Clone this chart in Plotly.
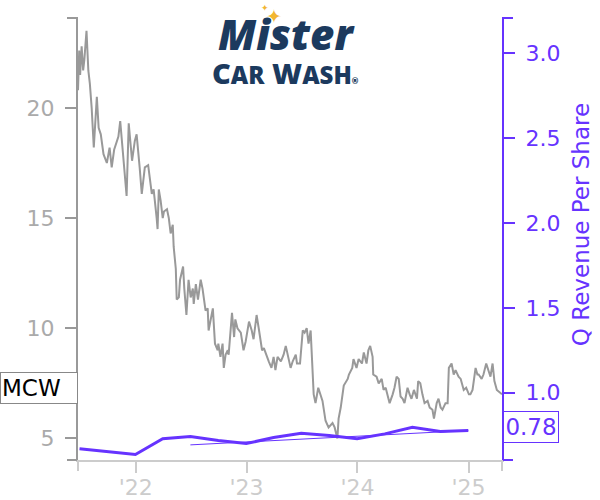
import plotly.graph_objects as go

# ---------------- data ----------------
price_dates = [
    "2021-06-25", "2021-06-29", "2021-07-02", "2021-07-07", "2021-07-12", "2021-07-16", "2021-07-23",
    "2021-07-29", "2021-08-03", "2021-08-09", "2021-08-16", "2021-08-26", "2021-09-01", "2021-09-08",
    "2021-09-17", "2021-09-28", "2021-10-07", "2021-10-14", "2021-10-22", "2021-11-05", "2021-11-11",
    "2021-11-23", "2021-12-02", "2021-12-09", "2021-12-20", "2021-12-29", "2022-01-04", "2022-01-14",
    "2022-01-21", "2022-01-31", "2022-02-11", "2022-02-23", "2022-03-01", "2022-03-11", "2022-03-14",
    "2022-03-18", "2022-03-24", "2022-03-31", "2022-04-04", "2022-04-14", "2022-04-20", "2022-04-26",
    "2022-05-03", "2022-05-06", "2022-05-13", "2022-05-16", "2022-05-23", "2022-05-27", "2022-06-06",
    "2022-06-10", "2022-06-17", "2022-06-24", "2022-07-01", "2022-07-08", "2022-07-11", "2022-07-18",
    "2022-07-25", "2022-08-03", "2022-08-09", "2022-08-19", "2022-08-26", "2022-08-29", "2022-09-06",
    "2022-09-12", "2022-09-19", "2022-09-28", "2022-09-30", "2022-10-07", "2022-10-14", "2022-10-18",
    "2022-10-24", "2022-10-31", "2022-11-03", "2022-11-14", "2022-11-21", "2022-11-25", "2022-12-02",
    "2022-12-13", "2022-12-22", "2022-12-29", "2023-01-09", "2023-01-18", "2023-01-24", "2023-02-03",
    "2023-02-10", "2023-02-21", "2023-02-27", "2023-03-08", "2023-03-15", "2023-03-24", "2023-03-31",
    "2023-04-06", "2023-04-13", "2023-04-24", "2023-05-03", "2023-05-10", "2023-05-16", "2023-05-26",
    "2023-06-02", "2023-06-12", "2023-06-16", "2023-06-26", "2023-07-05", "2023-07-11", "2023-07-18",
    "2023-07-24", "2023-07-31", "2023-08-07", "2023-08-10", "2023-08-16", "2023-08-25", "2023-09-08",
    "2023-09-18", "2023-09-28", "2023-10-11", "2023-10-18", "2023-10-27", "2023-10-31", "2023-11-07",
    "2023-11-17", "2023-11-30", "2023-12-04", "2023-12-15", "2023-12-19", "2023-12-29", "2024-01-05",
    "2024-01-16", "2024-01-22", "2024-01-31", "2024-02-06", "2024-02-12", "2024-02-20", "2024-02-22",
    "2024-03-04", "2024-03-11", "2024-03-21", "2024-03-27", "2024-04-03", "2024-04-09", "2024-04-16",
    "2024-04-26", "2024-05-02", "2024-05-09", "2024-05-16", "2024-05-22", "2024-05-29", "2024-06-04",
    "2024-06-14", "2024-06-21", "2024-06-27", "2024-07-05", "2024-07-15", "2024-07-19", "2024-07-26",
    "2024-08-02", "2024-08-09", "2024-08-19", "2024-08-26", "2024-09-04", "2024-09-09", "2024-09-18",
    "2024-09-24", "2024-10-01", "2024-10-07", "2024-10-17", "2024-10-24", "2024-10-28", "2024-11-06",
    "2024-11-13", "2024-11-19", "2024-11-29", "2024-12-06", "2024-12-16", "2024-12-24", "2025-01-02",
    "2025-01-07", "2025-01-14", "2025-01-24", "2025-01-30", "2025-02-03", "2025-02-13", "2025-02-19",
    "2025-02-28", "2025-03-07", "2025-03-14", "2025-03-21", "2025-03-27", "2025-04-04", "2025-04-14",
    "2025-04-21",
]
price_values = [
    20.8, 22.6, 21.5, 22.8, 21.7, 22.2, 23.5,
    21.7, 21.1, 20.0, 18.2, 20.5, 19.1, 18.8,
    17.9, 17.5, 18.2, 17.3, 18.1, 18.7, 19.4,
    17.3, 16.0, 19.3, 17.6, 18.5, 18.8, 17.3,
    16.1, 17.3, 17.4, 16.1, 16.3, 15.0, 14.5,
    16.3, 15.8, 15.0, 15.3, 15.4, 15.0, 14.3,
    14.7, 13.7, 12.7, 11.3, 11.4, 12.2, 12.8,
    11.8, 10.6, 12.2, 11.4, 11.8, 11.1, 12.0,
    11.3, 12.2, 11.8, 10.8, 10.9, 9.9, 10.5,
    10.9, 9.3, 9.0, 9.3, 8.7, 9.3, 8.2,
    8.8, 9.0, 8.8, 10.7, 9.6, 10.4, 10.0,
    9.8, 9.0, 9.4, 10.3, 9.9, 9.5, 10.6,
    10.0, 9.0, 9.1, 8.7, 8.5, 8.2, 8.7,
    8.1, 8.7, 8.5, 8.8, 9.2, 8.8, 8.2,
    8.5, 8.8, 8.4, 8.4, 9.9, 9.8, 10.0,
    9.3, 9.9, 7.3, 7.0, 6.6, 7.3, 6.7,
    5.8, 5.5, 5.7, 5.5, 5.0, 5.9, 6.4,
    7.4, 7.7, 7.9, 8.2, 8.6, 8.2, 8.6,
    8.4, 8.9, 8.4, 9.0, 9.2, 8.7, 7.9,
    7.8, 7.5, 7.7, 7.2, 7.3, 6.9, 6.6,
    7.0, 7.3, 7.8, 7.7, 6.9, 6.8, 6.6,
    7.3, 7.0, 6.8, 7.2, 6.8, 7.6, 7.5,
    7.0, 6.6, 6.7, 6.4, 6.3, 5.9, 6.6,
    6.8, 6.4, 6.3, 6.6, 6.6, 8.2, 8.4,
    7.9, 8.1, 7.8, 7.7, 7.2, 7.3, 7.0,
    7.0, 7.2, 8.2, 7.9, 7.9, 7.7, 7.9,
    8.4, 8.1, 7.8, 8.4, 7.6, 7.2, 7.1,
    7.0,
]

rev_dates = ["2021-06-30", "2021-09-30", "2021-12-31", "2022-03-31", "2022-06-30", "2022-09-30",
             "2022-12-31", "2023-03-31", "2023-06-30", "2023-09-30", "2023-12-31", "2024-03-31",
             "2024-06-30", "2024-09-30", "2024-12-31"]
rev_values = [0.670, 0.654, 0.636, 0.729, 0.743, 0.719,
              0.701, 0.736, 0.762, 0.748, 0.729, 0.758,
              0.797, 0.772, 0.778]

trend_dates = ["2022-06-30", "2024-12-31"]
trend_values = [0.693, 0.778]

x_tick_dates = ["2022-01-01", "2023-01-01", "2024-01-01", "2025-01-01"]
x_tick_labels = ["'22", "'23", "'24", "'25"]
left_ticks = [5, 10, 15, 20]
right_ticks = [1.0, 1.5, 2.0, 2.5, 3.0]

ticker = "MCW"
ticker_label_price = 7.28
rev_label = "0.78"
rev_label_value = 0.78

# ---------------- style ----------------
PURPLE = "#6633ff"
GRAY_LINE = "#999999"
FONT = "DejaVu Sans"
NAVY = "#1c3a5e"
GOLD = "#f2b632"

fig = go.Figure()
fig.add_trace(go.Scatter(x=price_dates, y=price_values, mode="lines",
                         line=dict(color=GRAY_LINE, width=2), yaxis="y",
                         hoverinfo="skip", showlegend=False))
fig.add_trace(go.Scatter(x=trend_dates, y=trend_values, mode="lines",
                         line=dict(color=PURPLE, width=1), yaxis="y2",
                         hoverinfo="skip", showlegend=False))
fig.add_trace(go.Scatter(x=rev_dates, y=rev_values, mode="lines",
                         line=dict(color=PURPLE, width=3), yaxis="y2",
                         hoverinfo="skip", showlegend=False))

fig.update_layout(
    width=600, height=500, autosize=False,
    margin=dict(l=78, r=98, t=18, b=40, pad=0, autoexpand=False),
    paper_bgcolor="white", plot_bgcolor="white",
    font=dict(family=FONT, size=22),
    xaxis=dict(type="date", range=["2021-06-25", "2025-04-21"], automargin=False,
               tickmode="array", tickvals=x_tick_dates, ticktext=x_tick_labels,
               ticks="outside", ticklen=11, tickwidth=2, tickcolor="#cccccc",
               showline=True, linecolor="#cccccc", linewidth=2,
               showgrid=False, zeroline=False, ticklabelstandoff=-4,
               tickfont=dict(color="#cccccc", size=22, family=FONT)),
    yaxis=dict(range=[4.02, 24.08], tickmode="array", tickvals=left_ticks, automargin=False,
               ticks="outside", ticklen=11, tickwidth=2, tickcolor="#999999",
               showline=True, linecolor="#999999", linewidth=2,
               showgrid=False, zeroline=False, ticklabelstandoff=6,
               tickfont=dict(color="#aaaaaa", size=22, family=FONT)),
    yaxis2=dict(range=[0.604, 3.208], overlaying="y", side="right", automargin=False,
                tickmode="array", tickvals=right_ticks,
                ticktext=[f"{v:.1f}" for v in right_ticks],
                ticks="outside", ticklen=11, tickwidth=2, tickcolor=PURPLE,
                showline=True, linecolor=PURPLE, linewidth=2,
                showgrid=False, zeroline=False, ticklabelstandoff=6,
                tickfont=dict(color=PURPLE, size=22, family=FONT)),
)

# outer ticks at axis ends
shapes = []
for yy in (0, 1):
    shapes.append(dict(type="line", xref="paper", yref="paper", xsizemode="pixel", xanchor=0,
                       x0=-11, x1=0, y0=yy, y1=yy, line=dict(color="#999999", width=2)))
    shapes.append(dict(type="line", xref="paper", yref="paper", xsizemode="pixel", xanchor=1,
                       x0=0, x1=11, y0=yy, y1=yy, line=dict(color=PURPLE, width=2)))
for xx in (0, 1):
    shapes.append(dict(type="line", xref="paper", yref="paper", ysizemode="pixel", yanchor=0,
                       x0=xx, x1=xx, y0=0, y1=-11, line=dict(color="#cccccc", width=2)))
fig.update_layout(shapes=shapes)

annotations = [
    dict(text=ticker, xref="paper", x=0, xanchor="right", yref="y", y=ticker_label_price,
         yanchor="middle", showarrow=False, align="left",
         font=dict(family=FONT, size=23, color="black"),
         bgcolor="white", bordercolor="#888888", borderwidth=1, borderpad=1,
         width=74, height=28),
    dict(text=rev_label, xref="paper", x=1, xanchor="left", xshift=1, yref="y2", y=rev_label_value,
         yanchor="middle", yshift=3, showarrow=False,
         font=dict(family=FONT, size=23, color=PURPLE),
         bgcolor="white", bordercolor=PURPLE, borderwidth=1, borderpad=1,
         width=52, height=28),
    dict(text="Q Revenue Per Share", xref="paper", x=1.187, yref="paper", y=0.532,
         textangle=-90, showarrow=False, xanchor="center", yanchor="middle",
         font=dict(family=FONT, size=23, color=PURPLE)),
    # logo
    dict(text="Mister", xref="paper", x=0.4925, yref="paper", y=0.966,
         xanchor="center", yanchor="middle", showarrow=False,
         font=dict(family="Open Sans", size=42, color=NAVY, weight=800, style="italic")),
    dict(text="C<span style='font-size:24px'>AR</span> W<span style='font-size:24px'>ASH</span>"
              "<span style='font-size:8px'>®</span>",
         xref="paper", x=0.4896, yref="paper", y=0.8765,
         xanchor="center", yanchor="middle", showarrow=False,
         font=dict(family="Open Sans", size=29, color=NAVY, weight=800)),
    dict(text="✦", xref="paper", x=(273.5 - 77.7) / 424, yref="paper", y=(459.5 - 16) / 441.5,
         xanchor="center", yanchor="middle", showarrow=False,
         font=dict(family="DejaVu Sans", size=19, color=GOLD)),
    dict(text="✦", xref="paper", x=(265 - 77.7) / 424, yref="paper", y=(459.5 - 8) / 441.5,
         xanchor="center", yanchor="middle", showarrow=False,
         font=dict(family="DejaVu Sans", size=9, color=GOLD)),
]
fig.update_layout(annotations=annotations)

post_js = (
    "document.body.style.margin='0';document.body.style.padding='0';"
    "document.body.style.overflow='hidden';"
    "var gd=document.getElementById('{plot_id}');"
    "gd.style.width='600px';gd.style.height='500px';"
    "Plotly.relayout(gd,{width:600,height:500});"
)
fig.write_html("out.html", config={"responsive": False, "displayModeBar": False},
               post_script=post_js)
